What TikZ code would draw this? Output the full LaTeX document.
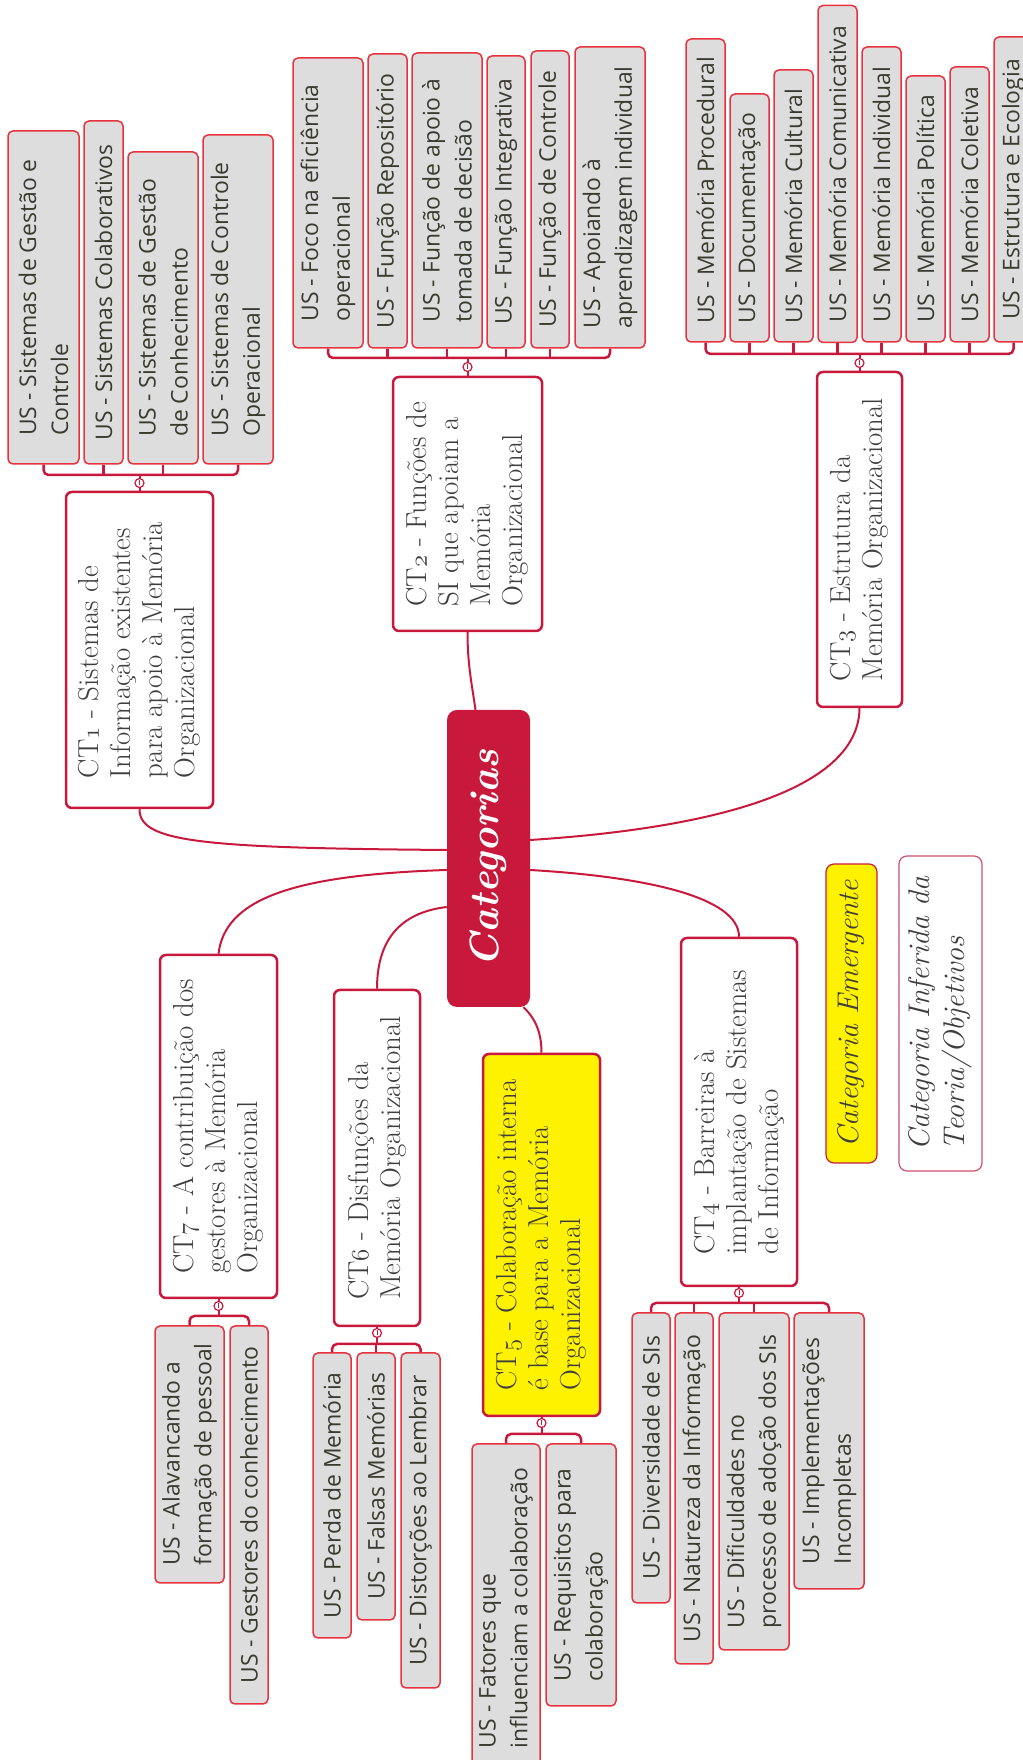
\documentclass[tikz,border=0pt]{standalone}
\usepackage{fontspec}
\newfontfamily\usfamily{Open Sans}
\definecolor{crim}{RGB}{200,25,60}
\definecolor{usline}{RGB}{232,50,62}
\definecolor{usgray}{RGB}{221,221,221}
\definecolor{ustext}{RGB}{58,58,48}
\definecolor{cttext}{RGB}{62,62,62}
\definecolor{legline}{RGB}{205,80,110}
\newcommand{\usfont}{\usfamily\fontsize{23}{32}\selectfont}
\newcommand{\ctfont}{\rmfamily\fontsize{29}{32}\selectfont}
\newcommand{\rootfont}{\rmfamily\bfseries\itshape\fontsize{41}{44}\selectfont}
\newcommand{\legfont}{\rmfamily\itshape\fontsize{30}{35}\selectfont}
\newcommand{\ctnum}[1]{$\mathnormal{#1}$}
\begin{document}
\begin{tikzpicture}[line join=round,
  us/.style={rotate=90,draw=usline,fill=usgray,line width=1.5bp,rounded corners=5bp,
    inner sep=0bp,align=left,text=ustext,font=\usfont},
  ct/.style={rotate=90,draw=crim,fill=white,line width=2.5bp,rounded corners=6bp,
    inner sep=0bp,align=left,text=cttext,font=\ctfont},
  root/.style={rotate=90,fill=crim,rounded corners=10bp,inner sep=0bp,text=white,font=\rootfont},
  leg/.style={rotate=90,rounded corners=8bp,inner sep=0bp,align=left,text=cttext,font=\legfont},
  bracket/.style={draw=crim,line width=2.5bp,rounded corners=5bp},
  link/.style={draw=crim,line width=2bp},
  knob/.style={circle,draw=crim,fill=white,line width=1.2bp,minimum size=9bp,inner sep=0bp,
    path picture={\draw[crim,line width=0.8bp] ([yshift=-2.5bp]path picture bounding box.center) -- ([yshift=2.5bp]path picture bounding box.center);}},
]
\useasboundingbox (0bp,0bp) rectangle (1023bp,1760bp);
\clip (0bp,0bp) rectangle (1023bp,1760bp);
%% centro
\node (root) at (488.5bp,901.5bp) [root,minimum width=297bp,minimum height=83bp] {Categorias};
%% CT1
\node (ct1) at (139.5bp,1110bp) [ct,minimum width=316bp,minimum height=147bp] {CT\ctnum{1} - Sistemas de\\Informação existentes\\para apoio à Memória\\Organizacional};
  \node (us11) at (43.5bp,1462.5bp) [us,minimum width=333bp,minimum height=71bp] {US - Sistemas de Gestão e\\Controle};
  \node (us12) at (103.5bp,1467.5bp) [us,minimum width=343bp,minimum height=39bp] {US - Sistemas Colaborativos};
  \node (us13) at (163bp,1452bp) [us,minimum width=312bp,minimum height=70bp] {US - Sistemas de Gestão\\de Conhecimento};
  \node (us14) at (238bp,1460.5bp) [us,minimum width=329bp,minimum height=70bp] {US - Sistemas de Controle\\Operacional};
%% CT2
\node (ct2) at (467.5bp,1256bp) [ct,minimum width=254bp,minimum height=149bp] {CT\ctnum{2} - Funções de\\SI que apoiam a\\Memória\\Organizacional};
  \node (us21) at (328bp,1557bp) [us,minimum width=290bp,minimum height=70bp] {US - Foco na eficiência\\operacional};
  \node (us22) at (387.5bp,1559bp) [us,minimum width=294bp,minimum height=39bp] {US - Função Repositório};
  \node (us23) at (447bp,1559.5bp) [us,minimum width=295bp,minimum height=70bp] {US - Função de apoio à\\tomada de decisão};
  \node (us24) at (506bp,1558bp) [us,minimum width=292bp,minimum height=38bp] {US - Função Integrativa};
  \node (us25) at (550bp,1560.5bp) [us,minimum width=297bp,minimum height=38bp] {US - Função de Controle};
  \node (us26) at (610bp,1562.5bp) [us,minimum width=301bp,minimum height=70bp] {US - Apoiando à\\aprendizagem individual};
%% CT3
\node (ct3) at (859.5bp,1220.5bp) [ct,minimum width=335bp,minimum height=85bp] {CT\ctnum{3} - Estrutura da\\Memória Organizacional};
  \node (us31) at (705.5bp,1569.5bp) [us,minimum width=303bp,minimum height=39bp] {US - Memória Procedural};
  \node (us32) at (749.5bp,1542bp) [us,minimum width=248bp,minimum height=39bp] {US - Documentação};
  \node (us33) at (793.5bp,1554bp) [us,minimum width=272bp,minimum height=39bp] {US - Memória Cultural};
  \node (us34) at (837.5bp,1586bp) [us,minimum width=337bp,minimum height=39bp] {US - Memória Comunicativa};
  \node (us35) at (881.5bp,1565.5bp) [us,minimum width=295bp,minimum height=39bp] {US - Memória Individual};
  \node (us36) at (925.5bp,1551bp) [us,minimum width=266bp,minimum height=39bp] {US - Memória Política};
  \node (us37) at (969.5bp,1555.5bp) [us,minimum width=275bp,minimum height=39bp] {US - Memória Coletiva};
  \node (us38) at (1013.5bp,1570.5bp) [us,minimum width=305bp,minimum height=39bp] {US - Estrutura e Ecologia};
%% CT4
\node (ct4) at (739bp,648bp) [ct,minimum width=348bp,minimum height=116bp] {CT\ctnum{4} - Barreiras à\\implantação de Sistemas\\de Informação};
  \node (us41) at (651bp,302bp) [us,minimum width=290bp,minimum height=38bp] {US - Diversidade de SIs};
  \node (us42) at (694bp,271.5bp) [us,minimum width=351bp,minimum height=38bp] {US - Natureza da Informação};
  \node (us43) at (754bp,278.5bp) [us,minimum width=337bp,minimum height=70bp] {US - Dificuldades no\\processo de adoção dos SIs};
  \node (us44) at (829bp,309bp) [us,minimum width=276bp,minimum height=70bp] {US - Implementações\\Incompletas};
%% CT5
\node (ct5) at (541.5bp,525bp) [ct,fill=yellow,minimum width=362bp,minimum height=117bp] {CT\ctnum{5} - Colaboração interna\\é base para a Memória\\Organizacional};
  \node (us51) at (506bp,152bp) [us,minimum width=328bp,minimum height=68bp] {US - Fatores que\\influenciam a colaboração};
  \node (us52) at (581bp,185bp) [us,minimum width=262bp,minimum height=70bp] {US - Requisitos para\\colaboração};
%% CT6
\node (ct6) at (377bp,602bp) [ct,minimum width=336bp,minimum height=86bp] {CT\ctnum{6} - Disfunções da\\Memória Organizacional};
  \node (us61) at (332bp,264.5bp) [us,minimum width=285bp,minimum height=38bp] {US - Perda de Memória};
  \node (us62) at (376bp,273.5bp) [us,minimum width=267bp,minimum height=38bp] {US - Falsas Memórias};
  \node (us63) at (420.5bp,239.5bp) [us,minimum width=335bp,minimum height=39bp] {US - Distorções ao Lembrar};
%% CT7
\node (ct7) at (218.5bp,633.5bp) [ct,minimum width=343bp,minimum height=117bp] {CT\ctnum{7} - A contribuição dos\\gestores à Memória\\Organizacional};
  \node (us71) at (189.5bp,305.5bp) [us,minimum width=257bp,minimum height=69bp] {US - Alavancando a\\formação de pessoal};
  \node (us72) at (249bp,245bp) [us,minimum width=378bp,minimum height=38bp] {US - Gestores do conhecimento};
%% legenda
\node (leg1) at (851.5bp,746.5bp) [leg,draw=crim,fill=yellow,line width=1.2bp,minimum width=299bp,minimum height=51bp] {Categoria Emergente};
\node (leg2) at (940.5bp,746.5bp) [leg,draw=legline,fill=white,line width=1.2bp,minimum width=315bp,minimum height=83bp] {Categoria Inferida da\\Teoria/Objetivos};
%% ligacoes ao centro
\draw [link] (ct1.west) .. controls (139.5bp,918bp) and (200bp,912bp) .. ([yshift=8.5bp]root.north);
\draw [link] (ct2.west) .. controls (467.5bp,1095bp) and (472bp,1075bp) .. ([xshift=-13bp]root.east);
\draw [link] (ct3.west) .. controls (859bp,985bp) and (760bp,935bp) .. ([yshift=18.5bp]root.south);
\draw [link] (ct4.east) .. controls (739bp,862bp) and (650bp,883bp) .. ([yshift=-11.5bp]root.south);
\draw [link] (ct5.east) .. controls (541.5bp,728bp) and (535bp,742bp) .. ([xshift=35bp]root.west);
\draw [link] (ct6.east) .. controls (377bp,825bp) and (405bp,848bp) .. ([yshift=-48.5bp]root.north);
\draw [link] (ct7.east) .. controls (225bp,860bp) and (290bp,885bp) .. ([yshift=-11.5bp]root.north);
%% chaves
\coordinate (b1) at (139.5bp,1285bp);
\draw [bracket] (us11.west) |- (b1) -| (us14.west);
\draw [bracket] (us12.west) -- (us12.west |- b1);
\draw [bracket] (us13.west) -- (us13.west |- b1);
\draw [link] (ct1.east) -- (b1);
\node (k1) at (139.5bp,1277bp) [knob] {};
%
\coordinate (b2) at (467.5bp,1402bp);
\draw [bracket] (us21.west) |- (b2) -| (us26.west);
\draw [bracket] (us22.west) -- (us22.west |- b2);
\draw [bracket] (us23.west) -- (us23.west |- b2);
\draw [bracket] (us24.west) -- (us24.west |- b2);
\draw [bracket] (us25.west) -- (us25.west |- b2);
\draw [link] (ct2.east) -- (b2);
\node (k2) at (467.5bp,1393bp) [knob] {};
%
\coordinate (b3) at (859.5bp,1406bp);
\draw [bracket] (us31.west) |- (b3) -| (us38.west);
\draw [bracket] (us32.west) -- (us32.west |- b3);
\draw [bracket] (us33.west) -- (us33.west |- b3);
\draw [bracket] (us34.west) -- (us34.west |- b3);
\draw [bracket] (us35.west) -- (us35.west |- b3);
\draw [bracket] (us36.west) -- (us36.west |- b3);
\draw [bracket] (us37.west) -- (us37.west |- b3);
\draw [link] (ct3.east) -- (b3);
\node (k3) at (859.5bp,1397bp) [knob] {};
%
\coordinate (b4) at (739bp,457bp);
\draw [bracket] (us41.east) |- (b4) -| (us44.east);
\draw [bracket] (us42.east) -- (us42.east |- b4);
\draw [bracket] (us43.east) -- (us43.east |- b4);
\draw [link] (ct4.west) -- (b4);
\node (k4) at (739bp,467bp) [knob] {};
%
\coordinate (b5) at (541.5bp,326bp);
\draw [bracket] (us51.east) |- (b5) -| (us52.east);
\draw [link] (ct5.west) -- (b5);
\node (k5) at (541.5bp,337bp) [knob] {};
%
\coordinate (b6) at (377bp,416bp);
\draw [bracket] (us61.east) |- (b6) -| (us63.east);
\draw [bracket] (us62.east) -- (us62.east |- b6);
\draw [link] (ct6.west) -- (b6);
\node (k6) at (377bp,427bp) [knob] {};
%
\coordinate (b7) at (218.5bp,444bp);
\draw [bracket] (us71.east) |- (b7) -| (us72.east);
\draw [link] (ct7.west) -- (b7);
\node (k7) at (218.5bp,454bp) [knob] {};
%
\end{tikzpicture}
\end{document}
